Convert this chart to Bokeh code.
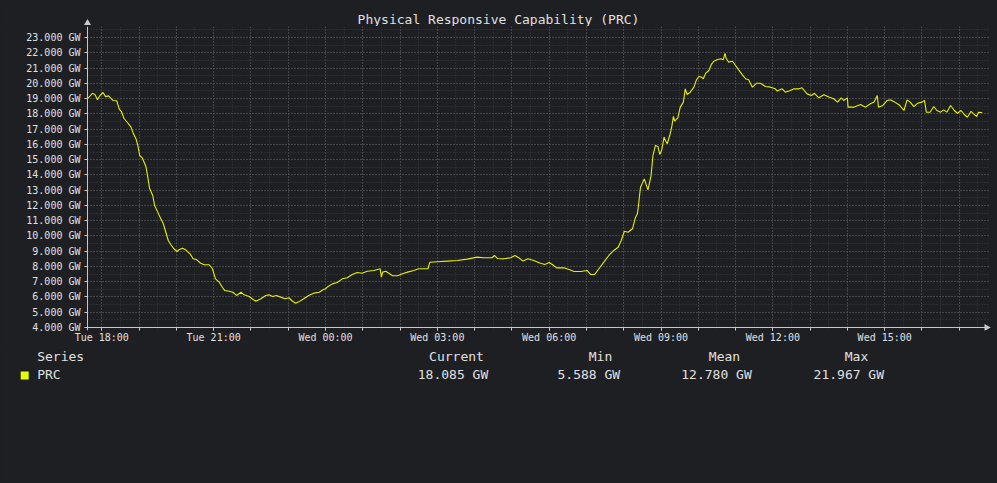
import math
from bokeh.plotting import figure
from bokeh.models import Range1d, FixedTicker, PrintfTickFormatter, Span
from bokeh.layouts import column
from bokeh.embed import file_html
from bokeh.resources import INLINE
from bokeh.core.properties import value

# ---------------- data ----------------
chart_title = "Physical Responsive Capability (PRC)"
series_name = "PRC"
unit = "GW"

# minutes relative to Tue 18:00
minutes = [
    -23, -15, -11, -7, -3, 2, 6, 11, 14, 18, 24, 28, 32, 36, 41, 47, 51, 55, 58, 61,
    65, 71, 74, 77, 82, 85, 90, 95, 99, 103, 107, 111, 116, 121, 124, 130, 135, 142, 147, 152,
    159, 165, 173, 178, 183, 189, 194, 198, 205, 211, 217, 224, 229, 237, 242, 248, 256, 264, 269, 275,
    281, 288, 295, 301, 307, 312, 317, 325, 333, 341, 350, 356, 360,
    363, 371, 379, 387, 395, 403, 411, 419, 427, 438, 448, 450, 452, 457, 462, 468, 476, 484, 492, 502,
    510, 525, 528, 540, 556, 572, 588, 604, 615, 628, 632, 637, 647, 658, 665, 671, 678, 686, 695, 706,
    713, 720, 725, 732, 744, 752, 760, 771, 781, 787, 793,
    800, 808, 816, 824, 831, 836, 841, 847, 854, 859, 862, 864, 867, 870, 873, 879, 884, 887, 891, 895,
    898, 901, 905, 907, 910, 914, 917, 920, 922, 927, 931, 936, 939, 942, 947, 953, 957, 961, 965, 968,
    972, 977, 981, 985, 990, 996, 1000, 1003, 1005, 1009, 1015, 1020, 1025, 1031, 1036, 1041, 1047, 1054, 1060, 1068,
    1076, 1084,
    1087, 1095, 1100, 1108, 1114, 1122, 1127, 1135, 1142, 1147, 1154, 1162, 1170, 1178, 1184, 1190, 1194, 1200, 1201, 1210,
    1221, 1229, 1237, 1243, 1248, 1250, 1257, 1264, 1269, 1276, 1283, 1291, 1296, 1301, 1307, 1313, 1320, 1324, 1327, 1333,
    1339, 1344, 1350, 1355, 1360, 1366, 1372, 1377, 1383, 1388, 1393, 1399, 1403, 1408, 1411, 1417,
]

prc_gw = [
    18.99, 19.35, 19.27, 18.92, 19.20, 19.40, 19.13, 19.18, 19.05, 18.88, 18.86, 18.33, 18.11, 17.68, 17.45, 17.13, 16.69, 16.37, 15.93, 15.27,
    15.12, 14.55, 13.85, 13.09, 12.65, 11.99, 11.56, 11.12, 10.80, 10.24, 9.70, 9.44, 9.16, 8.98, 9.09, 9.20, 9.09, 8.83, 8.50, 8.46,
    8.21, 8.11, 8.11, 7.85, 7.19, 6.97, 6.64, 6.42, 6.38, 6.31, 6.10, 6.31, 6.14, 6.03, 5.88, 5.72, 5.88, 6.10, 6.14, 6.03,
    6.10, 5.99, 5.88, 5.95, 5.72, 5.588, 5.68, 5.88, 6.10, 6.25, 6.31, 6.47, 6.54,
    6.65, 6.86, 6.95, 7.19, 7.26, 7.47, 7.60, 7.56, 7.69, 7.74, 7.85, 7.30, 7.63, 7.69, 7.56, 7.39, 7.39, 7.52, 7.63, 7.74,
    7.85, 7.85, 8.28, 8.31, 8.35, 8.39, 8.48, 8.61, 8.57, 8.57, 8.72, 8.52, 8.50, 8.57, 8.72, 8.57, 8.35, 8.50, 8.39, 8.21,
    8.13, 8.26, 8.13, 7.91, 7.91, 7.80, 7.67, 7.67, 7.74, 7.47, 7.47,
    7.85, 8.28, 8.72, 9.05, 9.26, 9.70, 10.31, 10.24, 10.47, 11.23, 11.45, 12.11, 13.19, 13.46, 13.74, 13.02, 13.96, 15.27, 15.93, 15.86,
    15.34, 15.60, 16.47, 16.25, 16.04, 16.58, 17.09, 17.83, 17.52, 17.74, 18.44, 18.77, 19.64, 19.27, 19.42, 19.75, 20.23, 20.45, 20.41, 20.30,
    20.67, 20.84, 21.24, 21.45, 21.54, 21.61, 21.54, 21.967, 21.61, 21.39, 21.45, 21.17, 20.88, 20.56, 20.30, 20.23, 19.75, 20.01, 20.01, 19.79,
    19.75, 19.64,
    19.49, 19.64, 19.42, 19.53, 19.64, 19.64, 19.71, 19.31, 19.20, 19.35, 19.05, 19.25, 19.10, 18.99, 18.77, 19.05, 18.88, 19.05, 18.44, 18.44,
    18.61, 18.44, 18.66, 18.77, 19.20, 18.44, 18.55, 18.88, 18.92, 18.77, 18.60, 18.22, 18.92, 18.77, 18.48, 18.70, 18.77, 18.88, 18.11, 18.11,
    18.48, 18.22, 18.11, 18.26, 18.11, 18.55, 18.22, 18.04, 18.22, 17.96, 17.78, 18.17, 18.00, 17.83, 18.11, 18.085,
]

x_tick_minutes = [0, 180, 360, 540, 720, 900, 1080, 1260]
x_tick_labels = ["Tue 18:00", "Tue 21:00", "Wed 00:00", "Wed 03:00",
                 "Wed 06:00", "Wed 09:00", "Wed 12:00", "Wed 15:00"]
y_ticks = list(range(4, 24))

stat_headers = ["Current", "Min", "Mean", "Max"]
stat_values = [18.085, 5.588, 12.780, 21.967]

# ---------------- style ----------------
BG = "#1e1f22"
FONT = "DejaVu Sans Mono"
AXIS = "#c8c8c8"
TEXT = "#e0e0e0"
LINE = "#e4f000"
SWATCH = "#e5ff00"
W = 997

# axis origin (data) and pixel scales
XA, YA = -23, 4            # where the axes cross
PX_PER_MIN = 0.62136
PX_PER_GW = 15.26
X0 = XA - 3 / PX_PER_MIN   # frame left, 3px left of y axis
X1 = XA + 903 / PX_PER_MIN
Y0 = YA - 3 / PX_PER_GW    # frame bottom, 3px below x axis
Y1 = YA + 301 / PX_PER_GW


def no_align(fig):
    if "frame_align" in fig.properties():
        fig.frame_align = False


# ---------------- title strip ----------------
top = figure(width=W, height=26, x_range=Range1d(0, W), y_range=Range1d(26, 0),
             output_backend="svg", toolbar_location=None, min_border=0,
             x_axis_type=None, y_axis_type=None)
no_align(top)
top.background_fill_color = BG
top.border_fill_color = BG
top.outline_line_color = None
top.grid.visible = False
top.text(x=[498], y=[19], text=[chart_title], text_font=value(FONT), text_font_size="13px",
         text_color=TEXT, text_align="center", text_baseline="middle")
top.scatter(x=[87], y=[22.5], marker="triangle", size=7, fill_color=AXIS, line_color=None)

# ---------------- main plot ----------------
p = figure(width=W, height=324, x_range=Range1d(X0, X1), y_range=Range1d(Y0, Y1),
           output_backend="svg", toolbar_location=None,
           min_border_left=84, min_border_right=7, min_border_top=0, min_border_bottom=20)
no_align(p)
p.background_fill_color = BG
p.border_fill_color = BG
p.outline_line_color = None

# grids
p.xgrid.ticker = FixedTicker(ticks=list(range(0, 1441, 60)), minor_ticks=list(range(-30, 1441, 30)))
p.ygrid.ticker = FixedTicker(ticks=y_ticks, minor_ticks=[v / 2 for v in range(8, 48)])
for g in (p.xgrid, p.ygrid):
    g.grid_line_color = "#5e5f62"
    g.grid_line_dash = "1 2"
    g.grid_line_width = 1
    g.minor_grid_line_color = "#3a3b3e"
    g.minor_grid_line_dash = "1 2"

# axis lines drawn at the crossing point
p.add_layout(Span(location=XA, dimension="height", line_color=AXIS, line_width=1))
p.add_layout(Span(location=YA, dimension="width", line_color=AXIS, line_width=1))

p.line(minutes, prc_gw, line_color=LINE, line_width=1.1)

# x-axis arrow head
p.scatter(x=[X1 - 4 / PX_PER_MIN], y=[YA], marker="triangle", size=7, angle=-math.pi / 2,
          fill_color=AXIS, line_color=None)

# axes (ticks/labels only)
p.xaxis.ticker = FixedTicker(ticks=x_tick_minutes, minor_ticks=list(range(0, 1441, 60)))
p.xaxis.major_label_overrides = {m: lab for m, lab in zip(x_tick_minutes, x_tick_labels)}
p.yaxis.ticker = FixedTicker(ticks=y_ticks)
p.yaxis.formatter = PrintfTickFormatter(format="%.3f " + unit)
for ax in (p.xaxis[0], p.yaxis[0]):
    ax.axis_line_color = None
    ax.major_tick_line_color = AXIS
    ax.minor_tick_line_color = AXIS
    ax.major_tick_out = 0
    ax.major_tick_in = 3
    ax.minor_tick_out = 0
    ax.minor_tick_in = 3
    ax.major_label_text_font = FONT
    ax.major_label_text_font_size = "10px"
    ax.major_label_text_color = TEXT
p.yaxis.minor_tick_in = 0
p.xaxis.major_label_standoff = 1
p.yaxis.major_label_standoff = 4

# ---------------- legend table ----------------
LH = 130
q = figure(width=W, height=LH, x_range=Range1d(0, W), y_range=Range1d(LH, 0),
           output_backend="svg", toolbar_location=None, min_border=0,
           x_axis_type=None, y_axis_type=None)
no_align(q)
q.background_fill_color = BG
q.border_fill_color = BG
q.outline_line_color = None
q.grid.visible = False

# legend figure starts at page y = 350
row1_y, row2_y = 5.9, 23.9
q.text(x=[36.7], y=[row1_y], text=["Series"], text_font=value(FONT), text_font_size="13px",
       text_color=TEXT, text_align="left", text_baseline="middle")
q.text(x=[36.7], y=[row2_y], text=[series_name], text_font=value(FONT), text_font_size="13px",
       text_color=TEXT, text_align="left", text_baseline="middle")
q.scatter(x=[24.2], y=[25], marker="square", size=8, fill_color=SWATCH, line_color=None)

header_x = [456, 600, 724, 856]
value_x = [452.5, 588.3, 716, 848.3]
q.text(x=header_x, y=[row1_y] * 4, text=stat_headers, text_font=value(FONT), text_font_size="13px",
       text_color=TEXT, text_align="center", text_baseline="middle")
q.text(x=value_x, y=[row2_y] * 4, text=["%.3f %s" % (v, unit) for v in stat_values],
       text_font=value(FONT), text_font_size="13px",
       text_color=TEXT, text_align="center", text_baseline="middle")

layout = column(top, p, q)
html = file_html(layout, INLINE)
html = html.replace("</head>", "<style>html,body{background-color:%s;}</style></head>" % BG, 1)
open("out.html", "w").write(html)
